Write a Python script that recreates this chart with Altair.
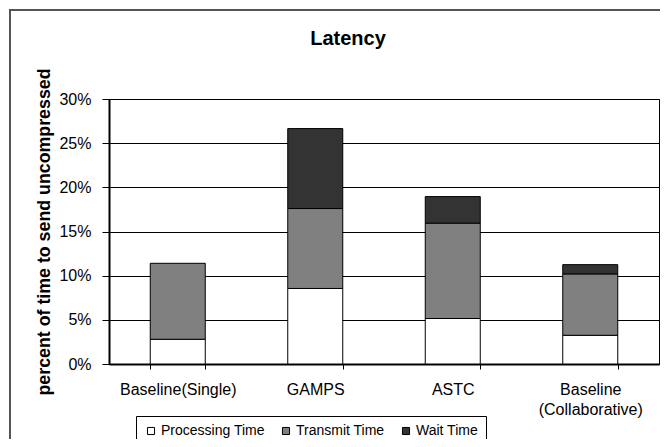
import altair as alt
import pandas as pd

categories = ["Baseline(Single)", "GAMPS", "ASTC", "Baseline (Collaborative)"]
series = ["Processing Time", "Transmit Time", "Wait Time"]
processing = [0.028, 0.0855, 0.0515, 0.0325]
transmit = [0.086, 0.0905, 0.108, 0.0695]
wait = [0.0, 0.0905, 0.030, 0.0105]
y_ticks = [0, 0.05, 0.10, 0.15, 0.20, 0.25, 0.30]
colors = ["#ffffff", "#808080", "#333333"]
chart_title = "Latency"

rows = []
for i, c in enumerate(categories):
    for j, vals in enumerate([processing, transmit, wait]):
        if vals[i] > 0:
            rows.append({"category": c, "series": series[j], "value": vals[i], "order": j})
df = pd.DataFrame(rows)

FONT = "Liberation Sans"

x = alt.X(
    "category:N",
    sort=categories,
    scale=alt.Scale(paddingInner=0.6, paddingOuter=0.3),
    axis=alt.Axis(
        title=None, labelAngle=0, labelFontSize=16, labelFont=FONT, labelColor="#000",
        labelPadding=12, tickBand="extent", tickSize=5, tickColor="#000", tickWidth=1,
        domainColor="#000", domainWidth=2,
        labelExpr="datum.value == 'Baseline (Collaborative)' ? ['Baseline', '(Collaborative)'] : datum.label",
        labelLineHeight=20,
    ),
)

y = alt.Y(
    "value:Q",
    stack="zero",
    scale=alt.Scale(domain=[0, 0.30], nice=False),
    axis=alt.Axis(
        title="percent of time to send uncompressed", format=".0%", values=y_ticks,
        grid=True, gridColor="#000", gridWidth=1, tickSize=7, tickColor="#000",
        domainColor="#000", domainWidth=2, labelFontSize=16, labelFont=FONT,
        labelColor="#000", labelPadding=11, titleFontSize=17.8, titleFont=FONT,
        titleFontWeight="bold", titleColor="#000", titlePadding=5,
    ),
)

color = alt.Color(
    "series:N",
    scale=alt.Scale(domain=series, range=colors),
    legend=alt.Legend(
        title=None, orient="none", legendX=27, legendY=317, direction="horizontal",
        strokeColor="#000", padding=8, symbolType="square", symbolSize=50,
        symbolStrokeColor="#000", symbolStrokeWidth=1, labelFontSize=14, labelFont=FONT,
        labelColor="#000", columnPadding=14, labelOffset=3, symbolOpacity=1,
    ),
)

bars = alt.Chart(df).mark_bar(stroke="#000", strokeWidth=1, opacity=1).encode(
    x=x, y=y, color=color, order=alt.Order("order:Q")
)

border = alt.Chart(alt.Data(values=[{"a": 1}])).mark_rect(
    filled=False, stroke="#555", strokeWidth=2
).encode(
    x=alt.value(-99), x2=alt.value(620), y=alt.value(-89), y2=alt.value(420)
)

title = alt.Chart(alt.Data(values=[{"t": chart_title}])).mark_text(
    font=FONT, fontSize=20, fontWeight="bold", color="#000", baseline="middle", align="center"
).encode(
    text="t:N", x=alt.value(239), y=alt.value(-60)
)

chart = alt.layer(border, bars, title).properties(
    width=550,
    height=265,
    padding={"left": 101, "top": 91, "right": 1, "bottom": 75},
    autosize=alt.AutoSizeParams(type="none"),
).configure_view(stroke="#000", strokeWidth=1)

chart.save("out.html", embed_options={"renderer": "svg", "actions": False})
